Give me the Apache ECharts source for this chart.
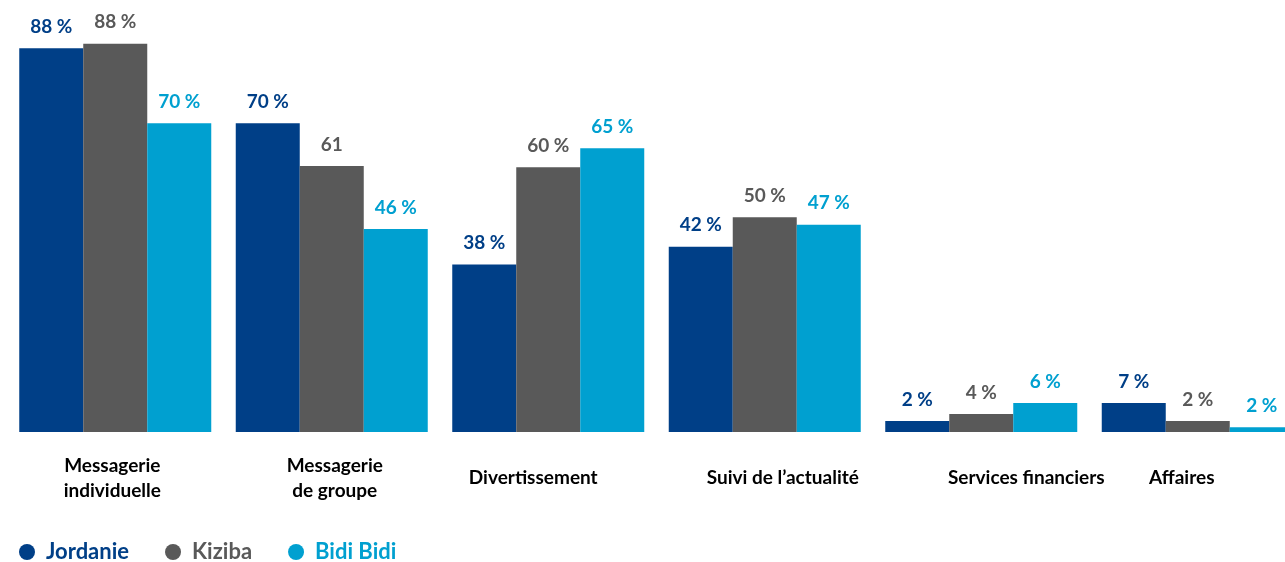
<!DOCTYPE html>
<html>
<head>
<meta charset="utf-8">
<script src="https://cdn.jsdelivr.net/npm/echarts@6/dist/echarts.min.js"></script>
<style>
  html, body { margin: 0; padding: 0; background: #fff; overflow: hidden; }
  /* the last group runs past the right edge in the original, so the chart is a bit wider than the window */
  #main { width: 1306px; height: 562px; }
</style>
</head>
<body>
<div id="main"></div>
<script>
// categories and values
var categories = ["Messagerie\nindividuelle", "Messagerie\nde groupe", "Divertissement",
  "Suivi de l\u2019actualité", "Services financiers", "Affaires"];
var seriesNames = ["Jordanie", "Kiziba", "Bidi Bidi"];
var jordanie = [87, 70, 38, 42, 2.5, 6.6];
var kiziba = [88, 60.3, 60, 48.7, 4.1, 2.5];
var bidi = [70, 46, 64.3, 47, 6.6, 1.1];
var jordanieLabels = ["88 %", "70 %", "38 %", "42 %", "2 %", "7 %"];
var kizibaLabels = ["88 %", "61", "60 %", "50 %", "4 %", "2 %"];
var bidiLabels = ["70 %", "46 %", "65 %", "47 %", "6 %", "2 %"];

var colors = ["#003f87", "#595959", "#00a0d0"];
var font = "Lato, 'Open Sans', sans-serif";
// horizontal shift of each category label (px)
var labelShift = [-3, 3, -15, 18, 45, -16];

var rich = {};
labelShift.forEach(function (d, i) {
  rich["c" + i] = {
    fontFamily: font, fontWeight: "bold", fontSize: 19, color: "#000",
    lineHeight: 25,
    padding: d > 0 ? [0, 0, 0, 2 * d] : [0, 2 * -d, 0, 0]
  };
});

function makeSeries(name, data, labels, color) {
  return {
    name: name,
    type: "bar",
    barWidth: 64,
    barGap: "0%",
    itemStyle: { color: color },
    label: {
      show: true,
      position: "top",
      distance: 12,
      fontFamily: font,
      fontWeight: "bold",
      fontSize: 19,
      color: color,
      formatter: function (p) { return labels[p.dataIndex]; }
    },
    data: data
  };
}

var myChart = echarts.init(document.getElementById("main"));
var option = {
  animation: false,
  grid: { left: 7, right: 0, top: 35, bottom: 130, containLabel: false },
  legend: {
    left: 19,
    top: 541,
    padding: 0,
    icon: "circle",
    itemWidth: 16,
    itemHeight: 16,
    itemGap: 36,
    data: seriesNames.map(function (n, i) {
      return { name: n, textStyle: { color: colors[i] } };
    }),
    textStyle: { fontFamily: font, fontWeight: "bold", fontSize: 22, padding: [0, 0, 0, 6] }
  },
  xAxis: {
    type: "category",
    data: categories,
    axisLine: { show: false },
    axisTick: { show: false },
    axisLabel: {
      interval: 0,
      margin: 46,
      verticalAlign: "middle",
      formatter: function (value, index) {
        return value.split("\n").map(function (line) {
          return "{c" + index + "|" + line + "}";
        }).join("\n");
      },
      rich: rich
    }
  },
  yAxis: {
    type: "value",
    min: 0,
    max: 90,
    show: false,
    splitLine: { show: false }
  },
  series: [
    makeSeries(seriesNames[0], jordanie, jordanieLabels, colors[0]),
    makeSeries(seriesNames[1], kiziba, kizibaLabels, colors[1]),
    makeSeries(seriesNames[2], bidi, bidiLabels, colors[2])
  ]
};
myChart.setOption(option);
</script>
</body>
</html>
